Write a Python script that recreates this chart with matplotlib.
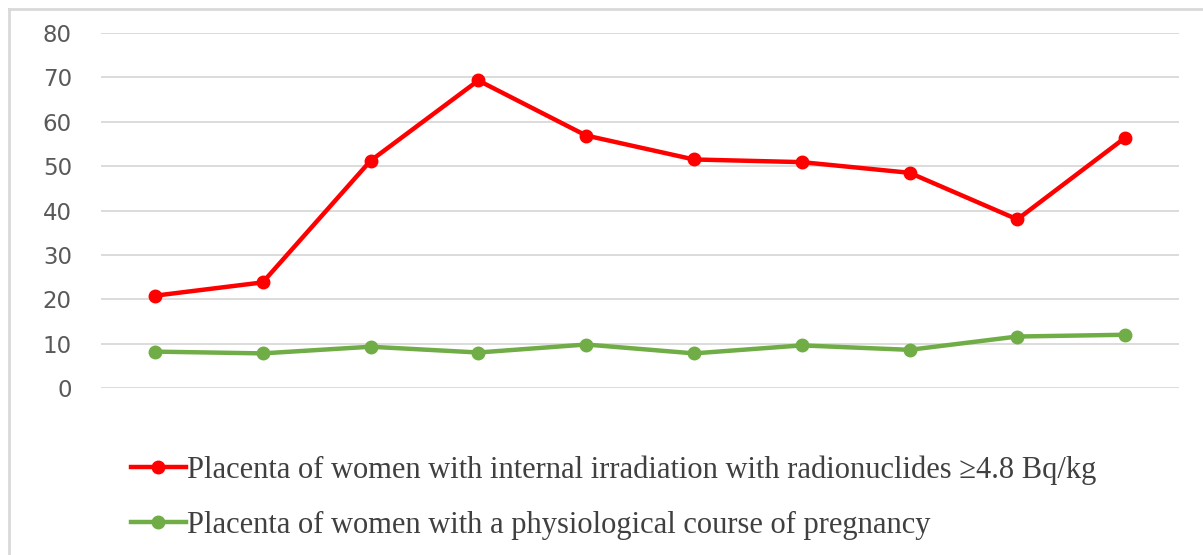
import matplotlib
matplotlib.use('Agg')
import matplotlib.pyplot as plt
from matplotlib.lines import Line2D

# Значения
points = list(range(1, 11))
internal = [20.8, 23.8, 51.2, 69.3, 56.9, 51.5, 50.9, 48.5, 38.0, 56.4]
physiological = [8.2, 7.8, 9.3, 8.0, 9.8, 7.8, 9.6, 8.6, 11.6, 12.0]
yticks = [0, 10, 20, 30, 40, 50, 60, 70, 80]
labels = ['Placenta of women with internal irradiation with radionuclides \u22654.8 Bq/kg',
          'Placenta of women with a physiological course of pregnancy']

fig = plt.figure(figsize=(12.03, 5.55), dpi=100)
W, H = 1203, 555

# рамка сверху и слева
fig.add_artist(Line2D([9 / W, 1], [1 - 9 / H, 1 - 9 / H], color='#d9d9d9', lw=2))
fig.add_artist(Line2D([9 / W, 9 / W], [0, 1 - 9 / H], color='#d9d9d9', lw=2))

ax = fig.add_axes([101 / W, 1 - 388 / H, (1179 - 101) / W, (388 - 33) / H])
ax.plot(points, internal, color='#ff0000', lw=3.2, marker='o', ms=9, zorder=3)
ax.plot(points, physiological, color='#70ad47', lw=3.2, marker='o', ms=9, zorder=3)

ax.set_xlim(0.5, 10.5)
ax.set_ylim(0, 80)
ax.set_yticks(yticks)
ax.set_xticks([])
ax.grid(axis='y', color='#d9d9d9', lw=1.3)
ax.set_axisbelow(True)
for s in ax.spines.values():
    s.set_visible(False)
ax.tick_params(axis='y', length=0, labelsize=16.5, labelcolor='#595959', pad=21)

# легенда внизу
handles = [Line2D([], [], color='#ff0000', lw=3.2, marker='o', ms=9),
           Line2D([], [], color='#70ad47', lw=3.2, marker='o', ms=9)]
fig.legend(handles, labels, loc='upper left', bbox_to_anchor=(103 / W, 1 - 428 / H),
           frameon=False, handlelength=1.8, handletextpad=0.05, labelspacing=0.85,
           prop={'family': 'Liberation Serif', 'size': 22}, labelcolor='#404040')

fig.savefig('out.png', dpi=100)
